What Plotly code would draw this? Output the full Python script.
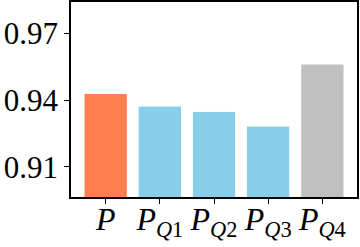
import plotly.graph_objects as go

categories = ["P", "P_Q1", "P_Q2", "P_Q3", "P_Q4"]
tick_labels = ["<i>P</i>", "<i>P</i><sub><i>Q</i>1</sub>", "<i>P</i><sub><i>Q</i>2</sub>",
               "<i>P</i><sub><i>Q</i>3</sub>", "<i>P</i><sub><i>Q</i>4</sub>"]
values = [0.9430, 0.9373, 0.9349, 0.9283, 0.9562]
colors = ["#FF7F50", "#87CEEB", "#87CEEB", "#87CEEB", "#C0C0C0"]
y_ticks = [0.91, 0.94, 0.97]
y_tick_text = ["0.91", "0.94", "0.97"]

fig = go.Figure()
fig.add_trace(go.Bar(
    x=list(range(len(categories))), y=values, width=0.8,
    marker=dict(color=colors, line=dict(color="white", width=1)),
))

yfont = dict(family="Liberation Serif, Times New Roman, serif", size=31, color="black")
xfont = dict(family="Liberation Serif, Times New Roman, serif", size=32, color="black")
fig.update_layout(
    width=360, height=247,
    margin=dict(l=71, r=3, t=2, b=50),
    plot_bgcolor="white", paper_bgcolor="white",
    showlegend=False,
    font=yfont,
)
fig.update_xaxes(
    range=[-0.64, 4.64], tickvals=list(range(len(categories))), ticktext=tick_labels,
    showline=True, linecolor="black", linewidth=1.5, mirror=True,
    ticks="outside", ticklen=5, tickcolor="black", tickwidth=1.2,
    showgrid=False, zeroline=False, tickfont=xfont, automargin=False,
    ticklabelstandoff=-12,
)
fig.update_yaxes(
    range=[0.8964, 0.9841], tickvals=y_ticks, ticktext=y_tick_text,
    showline=True, linecolor="black", linewidth=1.5, mirror=True,
    ticks="outside", ticklen=5, tickcolor="black", tickwidth=1.2,
    showgrid=False, zeroline=False, tickfont=yfont, automargin=False,
)
fig.write_html(
    "out.html",
    config={"displayModeBar": False},
    post_script="document.body.style.margin='0';document.body.style.overflow='hidden';",
)
